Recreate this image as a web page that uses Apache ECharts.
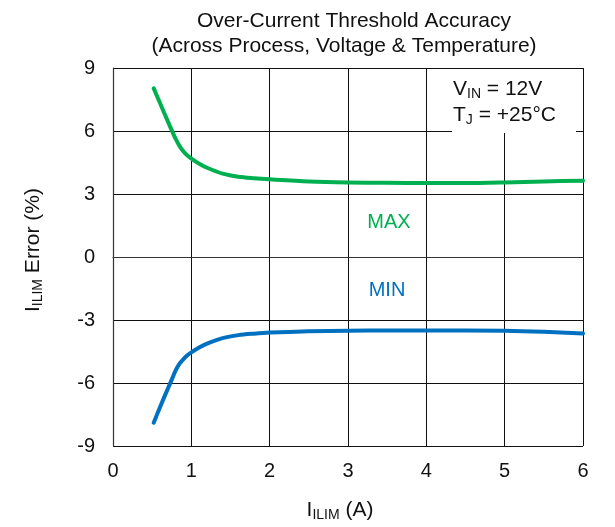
<!DOCTYPE html>
<html>
<head>
<meta charset="utf-8">
<script src="https://cdn.jsdelivr.net/npm/echarts@6/dist/echarts.min.js"></script>
<style>
  html, body { margin: 0; padding: 0; background: #fff; }
  #main { width: 615px; height: 527px; }
</style>
</head>
<body>
<div id="main"></div>
<script>
// values
var xMax = [0.52, 0.6, 0.7, 0.75, 0.8, 0.85, 0.9, 0.95, 1.0, 1.1, 1.2, 1.4, 1.6, 1.8, 2.0, 2.5, 3.0, 3.5, 4.0, 4.5, 5.0, 5.5, 6.0];
var yMax = [8.03, 7.33, 6.46, 6.03, 5.62, 5.28, 5.02, 4.83, 4.68, 4.44, 4.25, 3.97, 3.82, 3.75, 3.7, 3.6, 3.55, 3.53, 3.52, 3.52, 3.55, 3.6, 3.63];
var xMin = [0.52, 0.6, 0.7, 0.75, 0.8, 0.85, 0.9, 0.95, 1.0, 1.1, 1.2, 1.4, 1.6, 1.8, 2.0, 2.5, 3.0, 3.5, 4.0, 4.5, 5.0, 5.5, 6.0];
var yMin = [-7.89, -7.15, -6.27, -5.84, -5.4, -5.08, -4.86, -4.68, -4.54, -4.31, -4.12, -3.86, -3.72, -3.65, -3.6, -3.54, -3.51, -3.5, -3.5, -3.5, -3.51, -3.56, -3.64];
var xTicks = [0, 1, 2, 3, 4, 5, 6];
var yTicks = [-9, -6, -3, 0, 3, 6, 9];

function pairs(xs, ys) {
  var out = [];
  for (var i = 0; i < xs.length; i++) out.push([xs[i], ys[i]]);
  return out;
}

var font = 'Liberation Sans, Arial, sans-serif';
var ink = '#111';
var chart = echarts.init(document.getElementById('main'));

// rich styles for I<sub>ILIM</sub> style names
var subRich = {
  i: { fontSize: 21, color: ink, fontFamily: font },
  s: { fontSize: 14, color: ink, fontFamily: font, padding: [9, 0, 0, 0] },
  n: { fontSize: 21, color: ink, fontFamily: font }
};
var titleStyle = { fontSize: 21, fontWeight: 'normal', color: ink, fontFamily: font };

chart.setOption({
  animation: false,
  backgroundColor: '#fff',
  textStyle: { fontFamily: font },
  title: [
    { text: 'Over-Current Threshold Accuracy', left: 349, top: 6, textAlign: 'center', textStyle: titleStyle },
    { text: '(Across Process, Voltage & Temperature)', left: 339, top: 31, textAlign: 'center', textStyle: titleStyle }
  ],
  grid: { left: 113, top: 68, width: 470, height: 378 },
  xAxis: {
    type: 'value',
    min: xTicks[0],
    max: xTicks[xTicks.length - 1],
    interval: 1,
    name: '{i|I}{s|ILIM}{n| (A)}',
    nameLocation: 'middle',
    nameGap: 53,
    nameTextStyle: { rich: subRich, padding: [0, 16, 0, 0] },
    axisLine: { show: true, lineStyle: { color: '#333', width: 1.2 } },
    axisTick: { show: false },
    axisLabel: { fontSize: 20, color: ink, margin: 15 },
    splitLine: { show: true, lineStyle: { color: ink, width: 1 } }
  },
  yAxis: {
    type: 'value',
    min: yTicks[0],
    max: yTicks[yTicks.length - 1],
    interval: 3,
    name: '{i|I}{s|ILIM}{n| Error (%)}',
    nameLocation: 'middle',
    nameRotate: 90,
    nameGap: 68,
    nameTextStyle: { rich: subRich, padding: [0, 0, 0, 14] },
    axisLine: { show: true, lineStyle: { color: '#333', width: 1.2 } },
    axisTick: { show: false },
    axisLabel: { fontSize: 20, color: ink, margin: 18 },
    splitLine: { show: true, lineStyle: { color: ink, width: 1 } }
  },
  graphic: [
    {
      type: 'rect',
      z: 50,
      shape: { x: 452, y: 69, width: 124, height: 64 },
      style: { fill: '#fff' }
    },
    {
      type: 'text',
      z: 51,
      left: 453,
      top: 78,
      style: {
        text: '{a|V}{s|IN}{a| = 12V}\n{a|T}{s|J}{a| = +25°C}',
        rich: {
          a: { fontSize: 21, fill: ink, fontFamily: font, lineHeight: 26 },
          s: { fontSize: 14, fill: ink, fontFamily: font, lineHeight: 26, padding: [9, 0, 0, 0] }
        }
      }
    },
    {
      type: 'text',
      z: 51,
      x: 389,
      y: 222,
      style: { text: 'MAX', fontSize: 20, fill: '#00B050', fontFamily: font, align: 'center', verticalAlign: 'middle' }
    },
    {
      type: 'text',
      z: 51,
      x: 387,
      y: 290,
      style: { text: 'MIN', fontSize: 20, fill: '#0070C0', fontFamily: font, align: 'center', verticalAlign: 'middle' }
    }
  ],
  series: [
    {
      name: 'MAX',
      type: 'line',
      smooth: 0.3,
      showSymbol: false,
      z: 60,
      lineStyle: { color: '#00B050', width: 4, cap: 'round', join: 'round' },
      data: pairs(xMax, yMax)
    },
    {
      name: 'MIN',
      type: 'line',
      smooth: 0.3,
      showSymbol: false,
      z: 60,
      lineStyle: { color: '#0070C0', width: 4, cap: 'round', join: 'round' },
      data: pairs(xMin, yMin)
    }
  ]
});
</script>
</body>
</html>
